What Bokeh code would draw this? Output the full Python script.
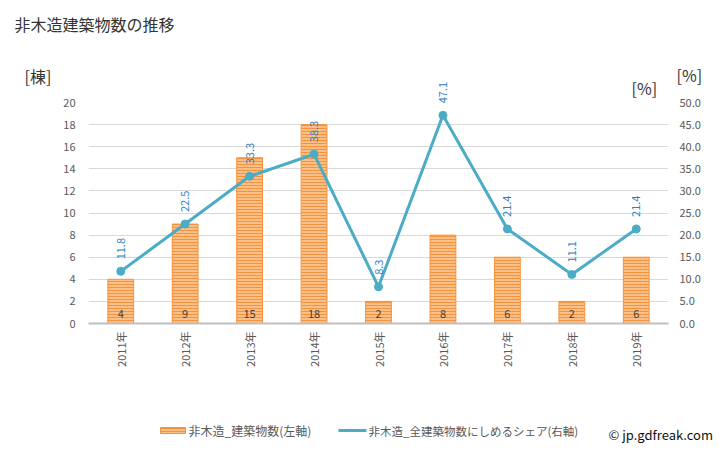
from math import pi
from bokeh.plotting import figure
from bokeh.models import (Range1d, LinearAxis, ColumnDataSource, FixedTicker, NumeralTickFormatter)
from bokeh.core.properties import value
from bokeh.embed import file_html
from bokeh.resources import INLINE

years = ["2011年", "2012年", "2013年", "2014年", "2015年", "2016年", "2017年", "2018年", "2019年"]
buildings = [4, 9, 15, 18, 2, 8, 6, 2, 6]
share = [11.8, 22.5, 33.3, 38.3, 8.3, 47.1, 21.4, 11.1, 21.4]
left_ticks = [0, 2, 4, 6, 8, 10, 12, 14, 16, 18, 20]
right_ticks = [0, 5, 10, 15, 20, 25, 30, 35, 40, 45, 50]
title_text = "非木造建築物数の推移"
left_unit = "[棟]"
right_unit = "[%]"
bar_name = "非木造_建築物数(左軸)"
line_name = "非木造_全建築物数にしめるシェア(右軸)"
credit = "© jp.gdfreak.com"

FONT = "Noto Sans CJK JP"
BAR_FILL = "#fbbf88"
BAR_HATCH = "#f7923c"
LINE_C = "#4bacc6"
LBL_C = "#2a80c6"

W, H = 728, 450
FL, FR, FT, FB = 88, 668, 102, 323   # frame edges in canvas pixels

xpos = [i + 0.5 for i in range(len(years))]
src = ColumnDataSource(dict(
    x=xpos, b=buildings, s=share,
    bl=[str(v) for v in buildings],
    sl=[f"{v:.1f}" for v in share],
    zero=[0] * len(years),
))

p = figure(width=W, height=H, x_range=Range1d(0, len(years)), y_range=Range1d(0, 20),
           output_backend="svg", toolbar_location=None,
           min_border_left=FL, min_border_right=W - FR, min_border_top=FT, min_border_bottom=H - FB)
p.extra_y_ranges = {"pct": Range1d(0, 50), "py": Range1d(0, FB - FT)}
p.extra_x_ranges = {"px": Range1d(0, FR - FL)}
p.outline_line_color = None
p.background_fill_color = "white"

bar_style = dict(fill_color=BAR_FILL, line_color=BAR_HATCH, line_width=1,
                 hatch_pattern="horizontal_line", hatch_color=BAR_HATCH,
                 hatch_scale=3, hatch_weight=1)

bar_r = p.vbar(x="x", top="b", width=0.4, source=src, **bar_style)

line_r = p.line(x="x", y="s", source=src, y_range_name="pct", line_color=LINE_C, line_width=3)
dot_r = p.scatter(x="x", y="s", source=src, y_range_name="pct", size=8,
                  fill_color=LINE_C, line_color=LINE_C)

bt = p.text(x="x", y="zero", text="bl", source=src, y_offset=-10,
            text_align="center", text_baseline="middle",
            text_font=value(FONT), text_font_size="11px", text_color="#404040")

st = p.text(x="x", y="s", text="sl", source=src, y_range_name="pct", angle=pi / 2,
            y_offset=-12, text_align="left", text_baseline="middle",
            text_font=value(FONT), text_font_size="11px", text_color=LBL_C)
st.level = "overlay"

# axes
p.yaxis.ticker = FixedTicker(ticks=left_ticks)
p.yaxis.axis_line_color = None
p.yaxis.major_tick_line_color = None
p.yaxis.minor_tick_line_color = None
p.yaxis.major_label_text_font_size = "11px"
p.yaxis.major_label_text_color = "#595959"
p.yaxis.major_label_text_font = FONT
p.yaxis.major_label_standoff = 7

ra = LinearAxis(y_range_name="pct", ticker=FixedTicker(ticks=right_ticks),
                formatter=NumeralTickFormatter(format="0.0"))
ra.axis_line_color = None
ra.major_tick_line_color = None
ra.minor_tick_line_color = None
ra.major_label_text_font_size = "11px"
ra.major_label_text_color = "#595959"
ra.major_label_text_font = FONT
ra.major_label_standoff = 5
p.add_layout(ra, "right")

p.xaxis.ticker = FixedTicker(ticks=xpos)
p.xaxis.major_label_overrides = {x: y for x, y in zip(xpos, years)}
p.xaxis.axis_line_color = "#bfbfbf"
p.xaxis.axis_line_width = 2
p.xaxis.major_tick_line_color = None
p.xaxis.minor_tick_line_color = None
p.xaxis.major_label_orientation = pi / 2
p.xaxis.major_label_text_font_size = "11px"
p.xaxis.major_label_text_color = "#595959"
p.xaxis.major_label_text_font = FONT
p.xaxis.major_label_standoff = 2

p.xgrid.grid_line_color = None
p.ygrid.ticker = FixedTicker(ticks=left_ticks)
p.ygrid.grid_line_color = "#d9d9d9"
p.ygrid.grid_line_width = 1

# free texts / legend placed in canvas-pixel space (overlay level, unclipped)
def px(x_img):
    return x_img - FL

def py(y_img):
    return FB - y_img

def free_text(x_img, y_img, txt, size, color):
    r = p.text(x=[px(x_img)], y=[py(y_img)], text=[txt], x_range_name="px", y_range_name="py",
               text_font=value(FONT), text_font_size=size, text_color=color,
               text_align="left", text_baseline="middle")
    r.level = "overlay"
    return r

free_text(14, 23, title_text, "16px", "#333333")
free_text(24, 75, left_unit, "16px", "#333333")
free_text(631, 87, right_unit, "16px", "#333333")
free_text(676, 74, right_unit, "16px", "#333333")
free_text(608, 434, credit, "13px", "#111111")

# legend keys
k1 = p.quad(left=[px(160)], right=[px(185)], top=[py(427)], bottom=[py(433)],
            x_range_name="px", y_range_name="py", **bar_style)
k1.level = "overlay"
free_text(188, 430, bar_name, "12px", "#595959")
k2 = p.line(x=[px(338), px(366)], y=[py(430), py(430)], x_range_name="px", y_range_name="py",
            line_color=LINE_C, line_width=3)
k2.level = "overlay"
k3 = p.scatter(x=[px(352)], y=[py(430)], x_range_name="px", y_range_name="py", size=7,
               fill_color=LINE_C, line_color=LINE_C)
k3.level = "overlay"
free_text(368, 430, line_name, "11.5px", "#595959")

open("out.html", "w").write(file_html(p, INLINE))
